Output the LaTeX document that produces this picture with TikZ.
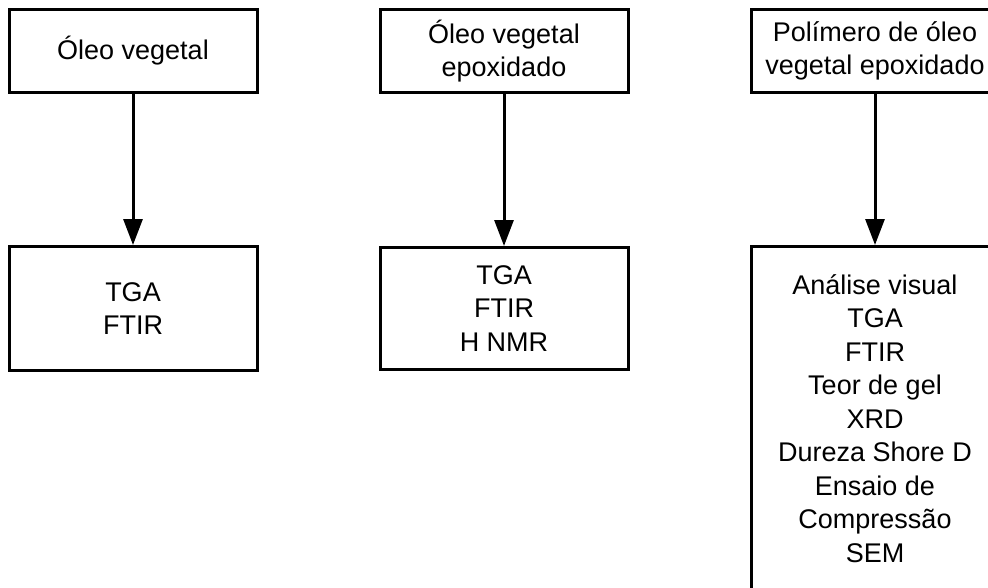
\documentclass[tikz,border=0pt]{standalone}
\usepackage{fontspec}
\setmainfont{Liberation Sans}
\usetikzlibrary{arrows.meta}

\tikzset{
  box/.style={draw=black, line width=3pt, minimum width=248pt, inner sep=0pt,
    align=center, font=\fontsize{27}{33.5}\selectfont, text=black},
  flow/.style={line width=3pt, -{Triangle[length=26pt,width=19pt]}}
}

\begin{document}
\begin{tikzpicture}[x=1pt,y=-1pt]
  \useasboundingbox (0,0) rectangle (988,587);

  % materials
  \node[box, minimum height=83pt] (oleo) at (133,51) {Óleo vegetal};
  \node[box, minimum height=83pt] (epox) at (504,51) {Óleo vegetal\\epoxidado};
  \node[box, minimum height=83pt] (poli) at (875,51) {Polímero de óleo\\vegetal epoxidado};

  % characterisation techniques
  \node[box, minimum height=124pt] (tecA) at (133,308.5) {TGA\\FTIR};
  \node[box, minimum height=122pt] (tecB) at (504,308.5) {TGA\\FTIR\\H NMR};
  \node[box, minimum height=344pt] (tecC) at (875,418.5)
    {Análise visual\\TGA\\FTIR\\Teor de gel\\XRD\\Dureza Shore D\\Ensaio de\\Compressão\\SEM};

  \draw[flow] (oleo) -- (tecA);
  \draw[flow] (epox) -- (tecB);
  \draw[flow] (poli) -- (tecC);
\end{tikzpicture}
\end{document}
